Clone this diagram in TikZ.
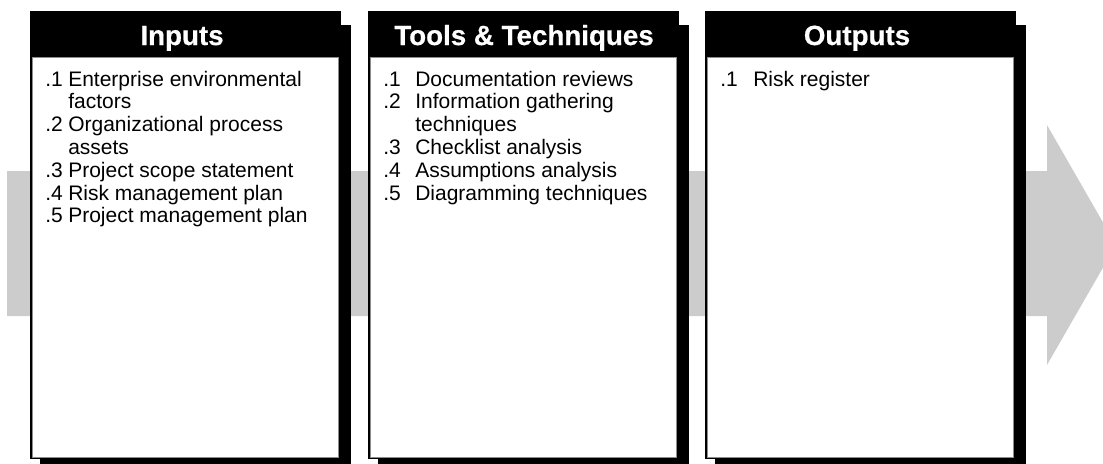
\documentclass[tikz,border=0pt]{standalone}
\usepackage{fontspec}
\setmainfont{Liberation Sans}
\newfontfamily\titlefont[FakeBold=0.6]{Liberation Sans Bold}
\usepackage{array}
\definecolor{arrowgray}{HTML}{CCCCCC}
\tikzset{
  boxshadow/.style={fill=black, inner sep=0pt, outer sep=0pt, minimum width=232.9pt, minimum height=336pt},
  boxframe/.style={fill=black, inner sep=0pt, outer sep=0pt, minimum width=232.9pt, minimum height=336pt},
  boxbody/.style={fill=white, draw=black!45, line width=0.3pt, inner sep=0pt, outer sep=0pt, minimum width=229.9pt, minimum height=300pt},
  boxtitle/.style={text=white, inner sep=0pt, anchor=base, font=\fontsize{20.8}{24}\selectfont\titlefont},
  boxlist/.style={inner sep=0pt, anchor=base west, align=left, font=\fontsize{15.75}{17.1}\selectfont},
}
\begin{document}
\begin{tikzpicture}[x=0.75pt, y=-0.75pt]
\useasboundingbox (0,0) rectangle (1103,464);
\clip (0,0) rectangle (1103,464);
% big grey arrow behind the boxes
\fill[arrowgray] (7,171) -- (1047,171) -- (1047,125) -- (1116,245) -- (1047,365) -- (1047,316) -- (7,316) -- cycle;
% box 1
\node[boxshadow] (s1) at (195.25,249) {};
\node[boxframe] (f1) at (185.25,235) {};
\node[boxbody] (b1) at (185.25,257) {};
\node[boxtitle] (t1) at (182,45) {Inputs};
\node[boxlist] (l1) at (45,86) {\begin{tabular}[t]{@{}p{17.25pt}@{}l@{}}
.1 & Enterprise environmental\\
   & factors\\
.2 & Organizational process\\
   & assets\\
.3 & Project scope statement\\
.4 & Risk management plan\\
.5 & Project management plan
\end{tabular}};
% box 2
\node[boxshadow] (s2) at (533.25,249) {};
\node[boxframe] (f2) at (523.25,235) {};
\node[boxbody] (b2) at (523.25,257) {};
\node[boxtitle] (t2) at (524,45) {Tools \& Techniques};
\node[boxlist] (l2) at (383,86) {\begin{tabular}[t]{@{}p{24pt}@{}l@{}}
.1 & Documentation reviews\\
.2 & Information gathering\\
   & techniques\\
.3 & Checklist analysis\\
.4 & Assumptions analysis\\
.5 & Diagramming techniques
\end{tabular}};
% box 3
\node[boxshadow] (s3) at (870.25,249) {};
\node[boxframe] (f3) at (860.25,235) {};
\node[boxbody] (b3) at (860.25,257) {};
\node[boxtitle] (t3) at (857,45) {Outputs};
\node[boxlist] (l3) at (720,86) {\begin{tabular}[t]{@{}p{24.75pt}@{}l@{}}
.1 & Risk register
\end{tabular}};
\end{tikzpicture}
\end{document}
